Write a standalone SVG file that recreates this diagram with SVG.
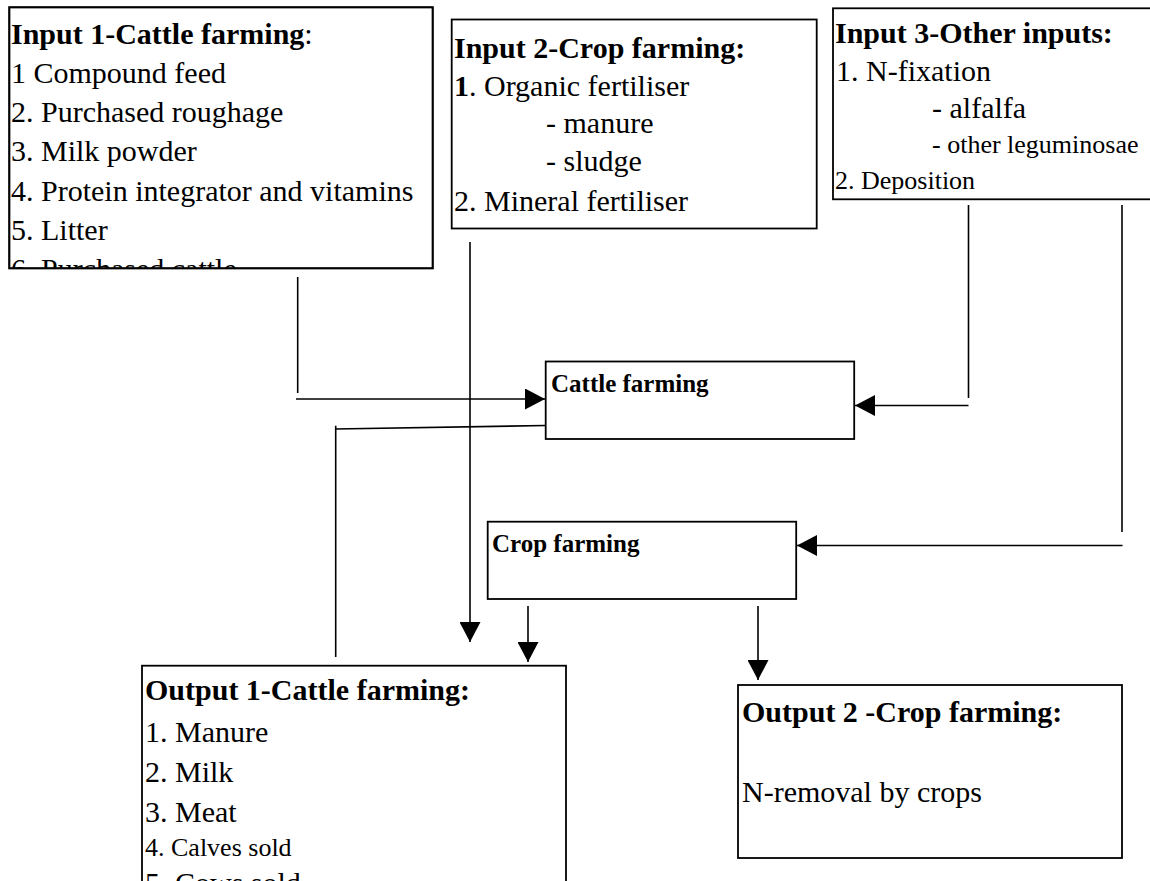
<svg xmlns="http://www.w3.org/2000/svg" width="1150" height="881" viewBox="0 0 1150 881">
<style>
.box{fill:#fff;stroke:#000;stroke-width:1.8}
.ln{fill:none;stroke:#000;stroke-width:1.6}
text{font-family:"Liberation Serif","Times New Roman",serif;fill:#000}
.t{font-size:30px;font-weight:bold}
.r{font-size:30px}
.s{font-size:26px}
.sb{font-size:25px;font-weight:bold}
</style>
<defs>
<marker id="ah" markerUnits="userSpaceOnUse" markerWidth="20" markerHeight="21" refX="20" refY="10.5" orient="auto">
<path d="M0,0 L20,10.5 L0,21 z" fill="#000"/>
</marker>
<clipPath id="c1"><rect x="9" y="7" width="424" height="261"/></clipPath>
</defs>
<rect width="1150" height="881" fill="#fff"/>

<g id="input1">
<rect class="box" x="9.3" y="7.3" width="423.4" height="261"/>
<g clip-path="url(#c1)">
<text x="11" y="44"><tspan class="t">Input 1-Cattle farming</tspan><tspan class="r">:</tspan></text>
<text class="r" x="11" y="83">1 Compound feed</text>
<text class="r" x="11" y="122">2. Purchased roughage</text>
<text class="r" x="11" y="161">3. Milk powder</text>
<text class="r" x="11" y="201">4. Protein integrator and vitamins</text>
<text class="r" x="11" y="240">5. Litter</text>
<text class="r" x="11" y="279">6. Purchased cattle</text>
</g>
<rect x="9.3" y="7.3" width="423.4" height="261" fill="none" stroke="#000" stroke-width="1.8"/>
</g>

<g id="input2">
<rect class="box" x="451.7" y="19.5" width="365" height="209"/>
<text class="t" x="454" y="58">Input 2-Crop farming:</text>
<text x="454" y="96"><tspan class="t">1</tspan><tspan class="r">. Organic fertiliser</tspan></text>
<text class="r" x="546" y="133">- manure</text>
<text class="r" x="546" y="171">- sludge</text>
<text class="r" x="454" y="211">2. Mineral fertiliser</text>
</g>

<g id="input3">
<rect class="box" x="833" y="8.3" width="330" height="191"/>
<text class="t" x="835" y="43">Input 3-Other inputs:</text>
<text class="r" x="836" y="81">1. N-fixation</text>
<text class="r" x="932" y="118">- alfalfa</text>
<text class="s" x="932" y="153">- other leguminosae</text>
<text class="s" x="835" y="189">2. Deposition</text>
</g>

<g id="cattle">
<rect class="box" x="545.7" y="361.5" width="308.5" height="77.5"/>
<text class="sb" x="551" y="392">Cattle farming</text>
</g>

<g id="crop">
<rect class="box" x="487.7" y="521.7" width="308.5" height="77.3"/>
<text class="sb" x="492" y="552">Crop farming</text>
</g>

<g id="output1">
<rect class="box" x="142" y="665.7" width="424" height="260"/>
<text class="t" x="145" y="700">Output 1-Cattle farming:</text>
<text class="r" x="145" y="742">1. Manure</text>
<text class="r" x="145" y="782">2. Milk</text>
<text class="r" x="145" y="822">3. Meat</text>
<text class="s" x="145" y="856">4. Calves sold</text>
<text class="r" x="145" y="893">5. Cows sold</text>
</g>

<g id="output2">
<rect class="box" x="738" y="685" width="384" height="173"/>
<text class="t" x="742" y="722">Output 2 -Crop farming:</text>
<text class="r" x="742" y="802">N-removal by crops</text>
</g>

<g id="connectors">
<line class="ln" x1="297.7" y1="277" x2="297.7" y2="393"/>
<line class="ln" x1="296" y1="399" x2="545" y2="399" marker-end="url(#ah)"/>
<line class="ln" x1="335" y1="429" x2="545.5" y2="425.5"/>
<line class="ln" x1="335.7" y1="425.7" x2="335.7" y2="657"/>
<line class="ln" x1="470" y1="242" x2="470" y2="642" marker-end="url(#ah)"/>
<line class="ln" x1="528" y1="606" x2="528" y2="662" marker-end="url(#ah)"/>
<line class="ln" x1="758" y1="606" x2="758" y2="680" marker-end="url(#ah)"/>
<line class="ln" x1="968.5" y1="205" x2="968.5" y2="398"/>
<line class="ln" x1="968.5" y1="405.5" x2="855" y2="405.5" marker-end="url(#ah)"/>
<line class="ln" x1="1122" y1="205" x2="1122" y2="532"/>
<line class="ln" x1="1122.5" y1="545.5" x2="797" y2="545.5" marker-end="url(#ah)"/>
</g>
</svg>
